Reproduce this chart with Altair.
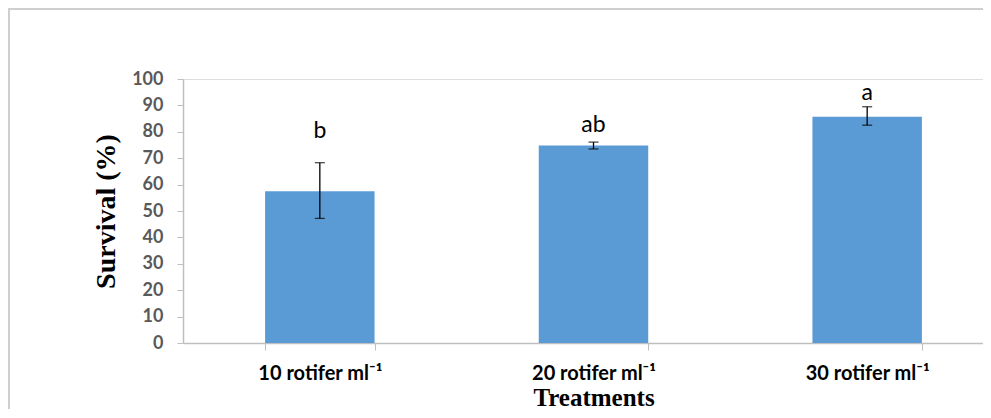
import altair as alt
import pandas as pd

categories = ["10 rotifer ml⁻¹", "20 rotifer ml⁻¹", "30 rotifer ml⁻¹"]
survival = [57.5, 74.8, 85.7]
err_low = [47.2, 73.5, 82.5]
err_high = [68.3, 76.1, 89.5]
letters = ["b", "ab", "a"]
letter_y = [80.3, 82.5, 94.7]
y_ticks = [0, 10, 20, 30, 40, 50, 60, 70, 80, 90, 100]

df = pd.DataFrame({
    "cat": categories, "val": survival, "lo": err_low, "hi": err_high,
    "letter": letters, "ly": letter_y,
})

PLOT_W = 800
PLOT_H = 264

xscale = alt.Scale(domain=categories, range=[0, 821], paddingInner=0.6, paddingOuter=0.3)
yscale = alt.Scale(domain=[0, 100], nice=False)

xaxis = alt.Axis(labelAngle=0, tickBand="extent", tickSize=7, labelPadding=13,
                 labelFont="Lato", labelFontSize=20, labelFontWeight="bold",
                 labelColor="#000000", titleFont="Liberation Serif", titleFontSize=25,
                 titleFontWeight="bold", titleColor="#000000",
                 titleBaseline="alphabetic", titleY=62,
                 domainColor="#bfbfbf", tickColor="#bfbfbf", domainWidth=1.5)

yaxis = alt.Axis(values=y_ticks, grid=False, tickSize=6, labelOverlap=False,
                 labelFont="Lato", labelFontSize=18, labelColor="#595959",
                 labelFontWeight="bold",
                 labelPadding=14, titleFont="Liberation Serif", titleFontSize=28,
                 titleFontWeight="bold", titleColor="#000000", titlePadding=11,
                 domainColor="#bfbfbf", tickColor="#bfbfbf", domainWidth=1.5)


def X():
    return alt.X("cat:N", scale=xscale, sort=categories, title="Treatments", axis=xaxis)


def Y(field):
    return alt.Y(field, scale=yscale, title="Survival (%)", axis=yaxis)


bars = alt.Chart(df).mark_bar(color="#5B9BD5").encode(x=X(), y=Y("val:Q"))

errs = alt.Chart(df).mark_errorbar(color="#000000", ticks=alt.MarkConfig(size=10),
                                   thickness=1.3).encode(x=X(), y=Y("lo:Q"), y2="hi:Q")

text = alt.Chart(df).mark_text(font="Lato", fontSize=23, color="#000000",
                               baseline="middle").encode(x=X(), y=Y("ly:Q"), text="letter:N")

frame_top = alt.Chart(df).mark_rule(color="#cfcfcf", strokeWidth=2).encode(
    x=alt.value(-175), x2=alt.value(1000), y=alt.value(-70))
frame_left = alt.Chart(df).mark_rule(color="#cfcfcf", strokeWidth=2).encode(
    x=alt.value(-174), y=alt.value(-71), y2=alt.value(400))

chart = alt.layer(bars, errs, text, frame_top, frame_left).properties(
    width=PLOT_W, height=PLOT_H,
    padding={"left": 175, "top": 71, "right": 0, "bottom": 66},
    autosize=alt.AutoSizeParams(type="none"),
).configure_view(stroke=None).configure(background="#ffffff")

chart.save("out.html", embed_options={"renderer": "svg", "actions": False})
